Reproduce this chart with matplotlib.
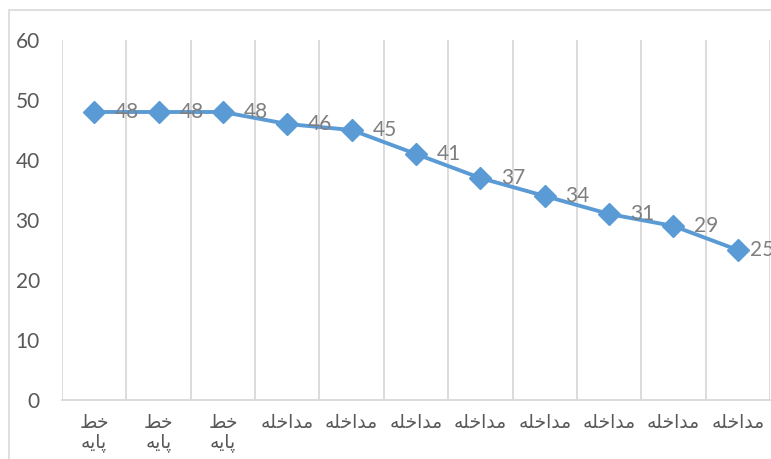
import matplotlib.pyplot as plt
from matplotlib.patches import Rectangle

# joined (presentation) forms, written in reading order
baseline = "ﺧﻂ\nﭘﺎﯾﻪ"
treatment = "ﻣﺪاﺧﻠﻪ"
categories = [baseline] * 3 + [treatment] * 8
values = [48, 48, 48, 46, 45, 41, 37, 34, 31, 29, 25]
yticks = [0, 10, 20, 30, 40, 50, 60]

plt.rcParams['font.family'] = ['Lato', 'DejaVu Sans']

fig = plt.figure(figsize=(7.71, 4.59), dpi=100)
ax = fig.add_axes([62/771, 1 - 400/459, 708/771, 360/459])

# outer chart border
fig.patches.append(Rectangle((8.5/771, -0.1), 1.2, 1.1 - 10.5/459,
                             transform=fig.transFigure, fill=False,
                             edgecolor='#d9d9d9', linewidth=1.2))

x = list(range(len(values)))
ax.plot(x, values, color='#5b9bd5', linewidth=2.8, marker='D',
        markersize=11, zorder=3, clip_on=False)

for xi, v in zip(x, values):
    # last label gets pulled in toward the edge, like the original
    dx = 9 if xi == x[-1] else 15
    ax.annotate(str(v), (xi, v), xytext=(dx, 0), textcoords='offset points',
                ha='left', va='center', fontsize=15, color='#7f7f7f',
                annotation_clip=False)

ax.set_xlim(-0.5, len(values) - 0.5)
ax.set_ylim(0, 60)
ax.set_yticks(yticks)
ax.set_yticklabels([str(t) for t in yticks], fontsize=15, color='#595959')
ax.set_xticks(x)
# renderer lays these out right-to-left, so pass each line reversed
labels = ['\n'.join(line[::-1] for line in c.split('\n')) for c in categories]
ax.set_xticklabels(labels, fontsize=13.5, color='#595959', linespacing=1.2)
ax.tick_params(axis='both', length=0)
ax.tick_params(axis='y', pad=16)
ax.tick_params(axis='x', pad=10)

for b in range(len(values) + 1):
    ax.axvline(b - 0.5, color='#d9d9d9', linewidth=1.3, zorder=1)

for s in ['top', 'right', 'left']:
    ax.spines[s].set_visible(False)
ax.spines['bottom'].set_color('#d9d9d9')
ax.spines['bottom'].set_linewidth(1.3)

fig.savefig('out.png', dpi=100)
